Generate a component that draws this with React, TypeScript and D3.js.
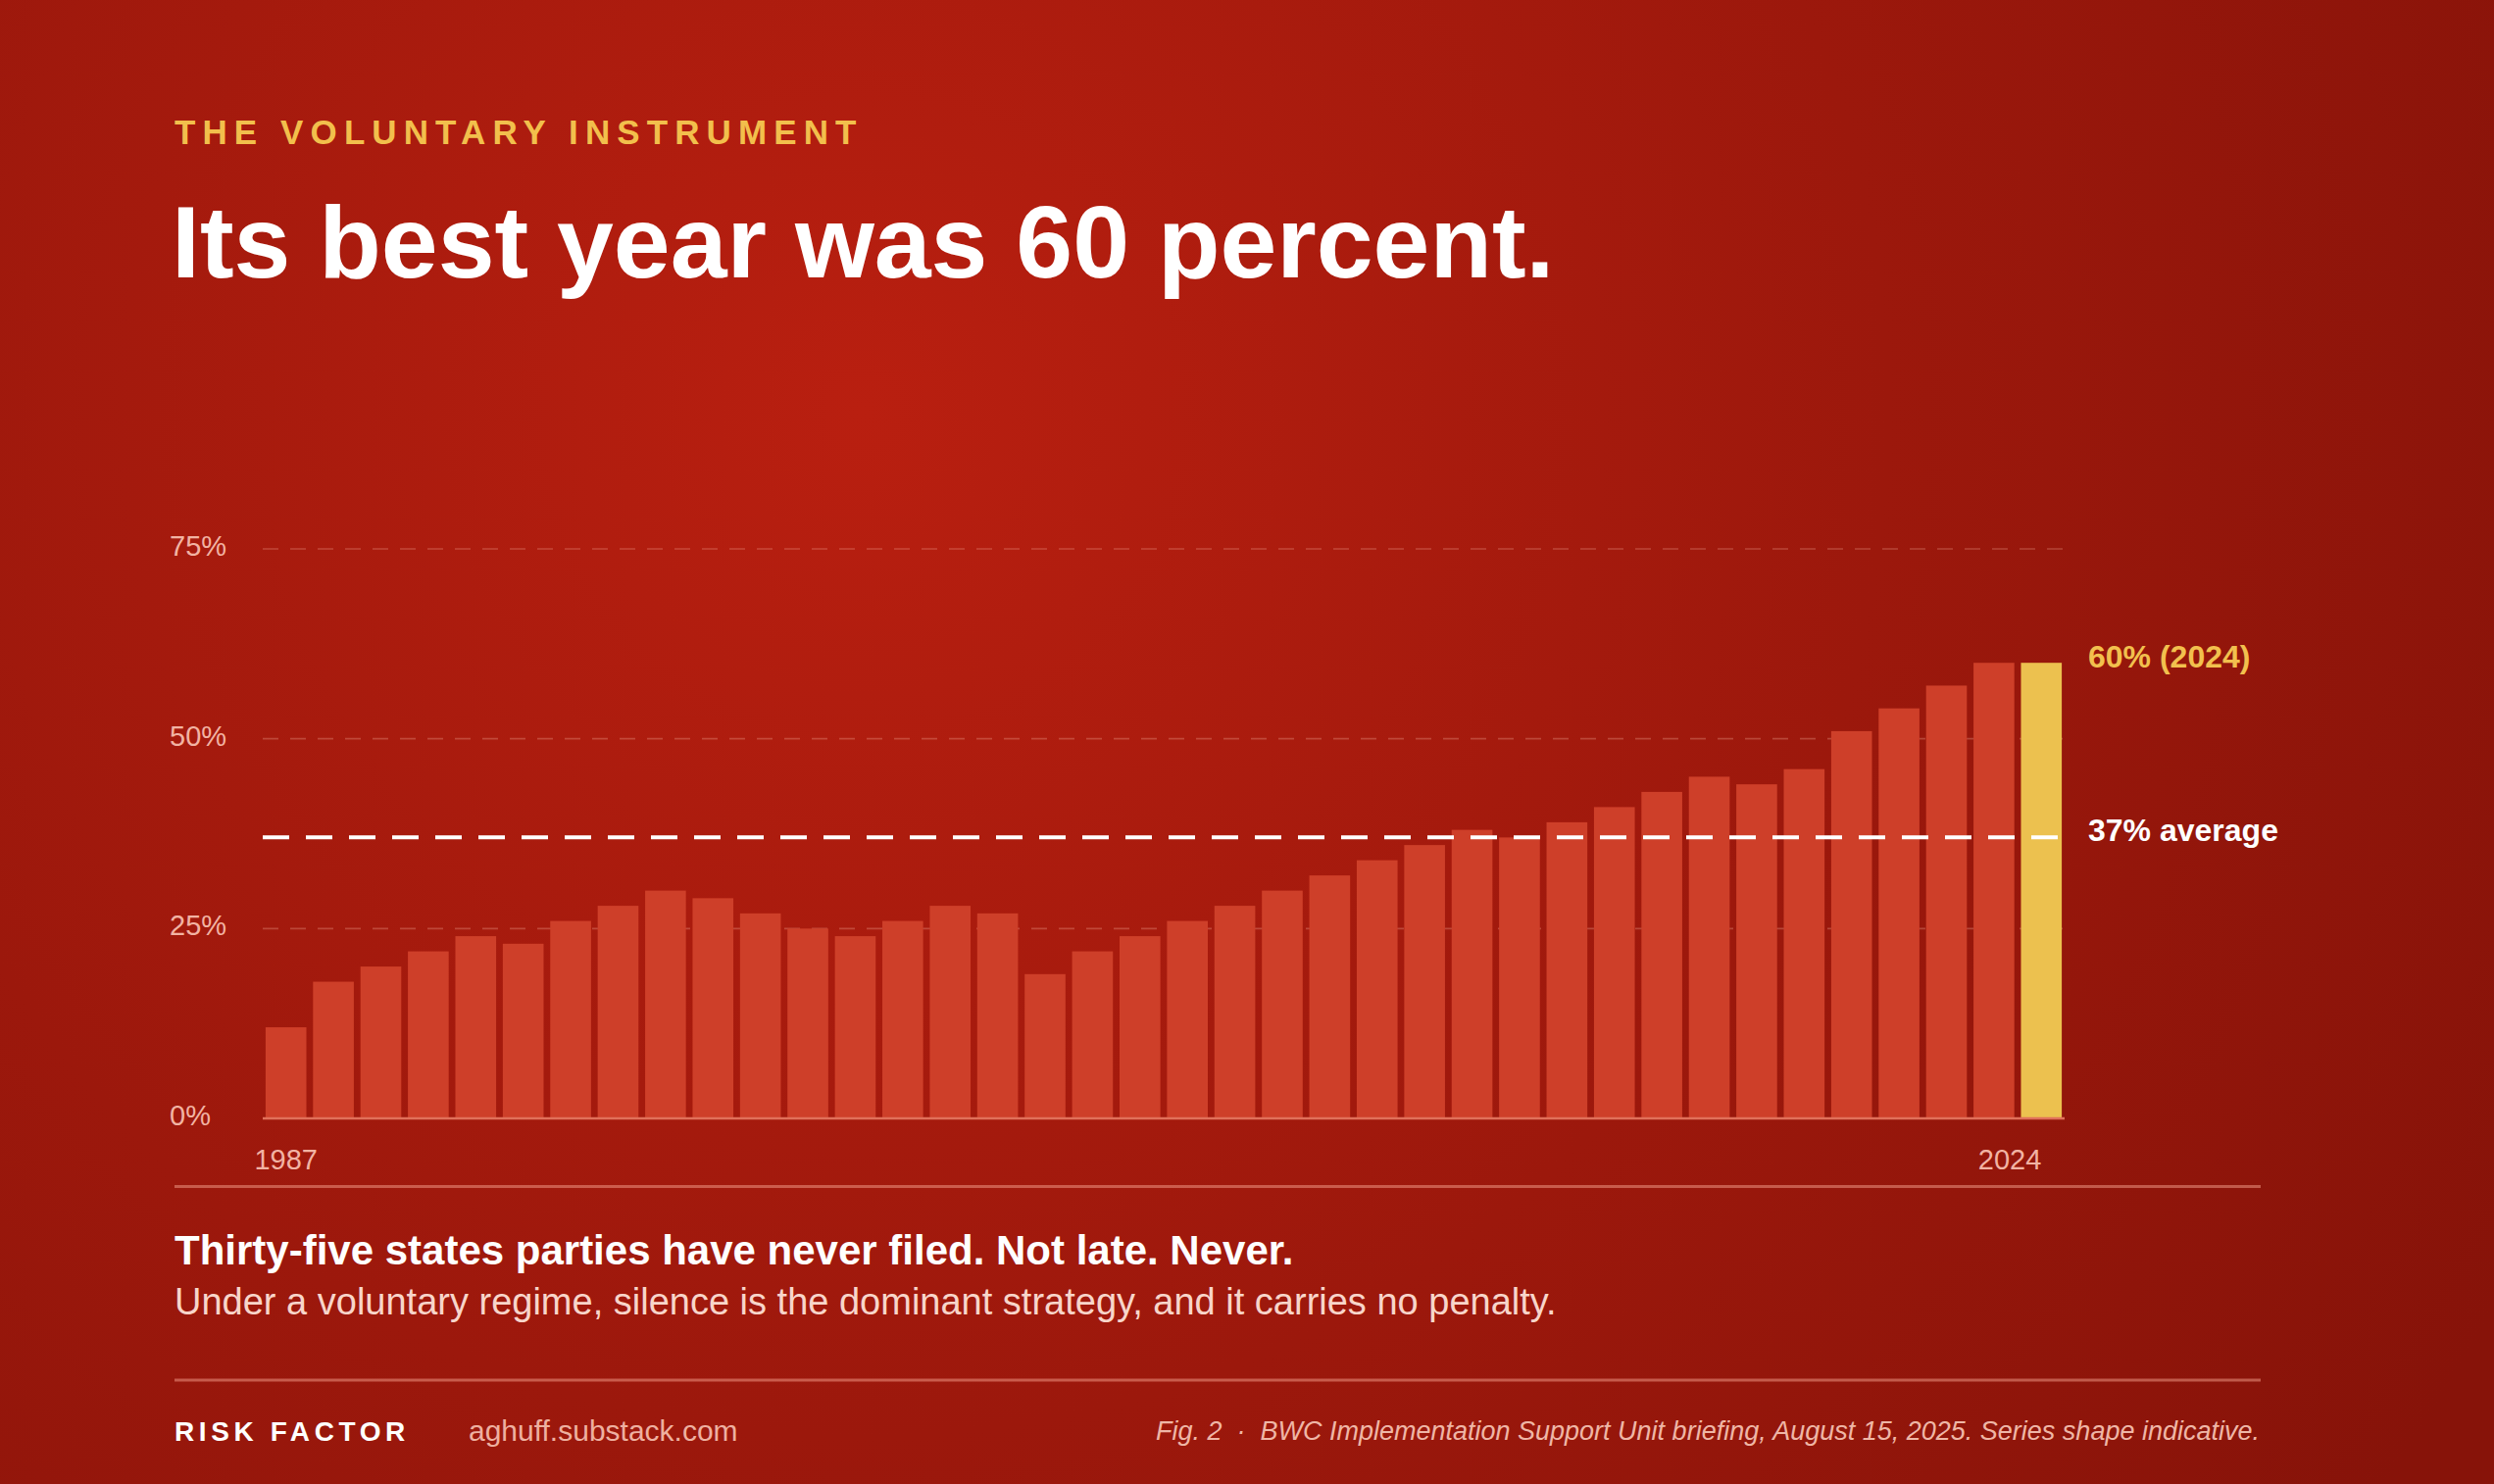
import React, { useRef, useEffect } from 'react';
import * as d3 from 'd3';

// data
const years = [
  '1987', '1988', '1989', '1990', '1991', '1992', '1993', '1994', '1995', '1996',
  '1997', '1998', '1999', '2000', '2001', '2002', '2003', '2004', '2005', '2006',
  '2007', '2008', '2009', '2010', '2011', '2012', '2013', '2014', '2015', '2016',
  '2017', '2018', '2019', '2020', '2021', '2022', '2023', '2024',
];
const filingRates = [
  12, 18, 20, 22, 24, 23, 26, 28, 30, 29,
  27, 25, 24, 26, 28, 27, 19, 22, 24, 26,
  28, 30, 32, 34, 36, 38, 37, 39, 41, 43,
  45, 44, 46, 51, 54, 57, 60, 60,
];
const yTicks = [0, 25, 50, 75];
const gridTicks = [25, 50, 75];
const averageRate = 37;
const highlightYear = '2024';
const labeledYears = ['1987', '2024'];

const FONT = '"Liberation Sans", Arial, Helvetica, sans-serif';

interface ChartProps {
  width?: number;
  height?: number;
}

const App: React.FC<ChartProps> = ({ width = 2544, height = 1514 }) => {
  const svgRef = useRef<SVGSVGElement | null>(null);

  useEffect(() => {
    const svg = d3.select(svgRef.current);
    svg.selectAll('*').remove();

    const left = 268;
    const right = 2106;
    const textX = 178;

    // background
    const defs = svg.append('defs');
    const grad = defs.append('radialGradient')
      .attr('id', 'bg')
      .attr('gradientUnits', 'userSpaceOnUse')
      .attr('cx', 880).attr('cy', 420).attr('r', 1900);
    grad.append('stop').attr('offset', 0).attr('stop-color', '#b91f10');
    grad.append('stop').attr('offset', 0.55).attr('stop-color', '#9c180c');
    grad.append('stop').attr('offset', 1).attr('stop-color', '#871309');

    svg.append('rect')
      .attr('width', width).attr('height', height)
      .attr('fill', 'url(#bg)');

    const x = d3.scaleBand<string>()
      .domain(years)
      .range([left, right])
      .paddingInner(0.14)
      .paddingOuter(0.06);

    const y = d3.scaleLinear().domain([0, 75]).range([1141, 560]);

    // header
    svg.append('text')
      .attr('x', textX).attr('y', 147)
      .attr('font-family', FONT).attr('font-size', 35).attr('font-weight', 700)
      .attr('letter-spacing', 7.1)
      .attr('fill', '#f2bf4c')
      .text('THE VOLUNTARY INSTRUMENT');

    svg.append('text')
      .attr('x', textX - 3).attr('y', 283)
      .attr('font-family', FONT).attr('font-size', 104).attr('font-weight', 700)
      .attr('fill', '#ffffff')
      .text('Its best year was 60 percent.');

    // gridlines
    svg.append('g')
      .selectAll('line')
      .data(gridTicks)
      .join('line')
      .attr('x1', left).attr('x2', right)
      .attr('y1', d => y(d)).attr('y2', d => y(d))
      .attr('stroke', 'rgba(255, 190, 170, 0.28)')
      .attr('stroke-width', 1.6)
      .attr('stroke-dasharray', '16 12');

    // y labels
    svg.append('g')
      .selectAll('text')
      .data(yTicks)
      .join('text')
      .attr('x', 173)
      .attr('y', d => y(d) + 7)
      .attr('font-family', FONT).attr('font-size', 29)
      .attr('fill', '#f2b3a3')
      .text(d => `${d}%`);

    // bars
    svg.append('g')
      .selectAll('rect')
      .data(years)
      .join('rect')
      .attr('x', d => x(d) as number)
      .attr('width', x.bandwidth())
      .attr('y', (d, i) => y(filingRates[i]))
      .attr('height', (d, i) => y(0) - y(filingRates[i]))
      .attr('fill', d => (d === highlightYear ? '#ecc14f' : '#ce3f29'));

    // baseline
    svg.append('line')
      .attr('x1', left).attr('x2', right)
      .attr('y1', y(0)).attr('y2', y(0))
      .attr('stroke', '#e0705a')
      .attr('stroke-width', 2.4);

    // x labels: first centred, last ends at its bar centre
    svg.append('g')
      .selectAll('text')
      .data(labeledYears)
      .join('text')
      .attr('x', d => (x(d) as number) + x.bandwidth() / 2)
      .attr('y', 1193)
      .attr('text-anchor', (d, i) => (i === 0 ? 'middle' : 'end'))
      .attr('font-family', FONT).attr('font-size', 29)
      .attr('fill', '#f2b3a3')
      .text(d => d);

    // average line
    svg.append('line')
      .attr('x1', left).attr('x2', right)
      .attr('y1', y(averageRate)).attr('y2', y(averageRate))
      .attr('stroke', '#ffffff')
      .attr('stroke-width', 4)
      .attr('stroke-dasharray', '27 17');

    const peak = filingRates[filingRates.length - 1];
    svg.append('text')
      .attr('x', 2130).attr('y', y(peak) + 5)
      .attr('font-family', FONT).attr('font-size', 32).attr('font-weight', 700)
      .attr('fill', '#f2c04e')
      .text(`${peak}% (${highlightYear})`);

    svg.append('text')
      .attr('x', 2130).attr('y', y(averageRate) + 4)
      .attr('font-family', FONT).attr('font-size', 32).attr('font-weight', 700)
      .attr('fill', '#ffffff')
      .text(`${averageRate}% average`);

    // dividers
    [1210.5, 1408].forEach(yy => {
      svg.append('line')
        .attr('x1', textX).attr('x2', 2306)
        .attr('y1', yy).attr('y2', yy)
        .attr('stroke', 'rgba(255, 175, 155, 0.45)')
        .attr('stroke-width', 3);
    });

    // takeaway
    svg.append('text')
      .attr('x', textX).attr('y', 1290)
      .attr('font-family', FONT).attr('font-size', 42).attr('font-weight', 700)
      .attr('fill', '#ffffff')
      .text('Thirty-five states parties have never filed. Not late. Never.');

    svg.append('text')
      .attr('x', textX).attr('y', 1341)
      .attr('font-family', FONT).attr('font-size', 38)
      .attr('fill', '#f8d5ca')
      .text('Under a voluntary regime, silence is the dominant strategy, and it carries no penalty.');

    // footer
    svg.append('text')
      .attr('x', textX).attr('y', 1470)
      .attr('font-family', FONT).attr('font-size', 28).attr('font-weight', 700)
      .attr('letter-spacing', 4.6)
      .attr('fill', '#ffffff')
      .text('RISK FACTOR');

    svg.append('text')
      .attr('x', 478).attr('y', 1470)
      .attr('font-family', FONT).attr('font-size', 30)
      .attr('fill', '#eeb0a0')
      .text('aghuff.substack.com');

    svg.append('text')
      .attr('x', 2305).attr('y', 1469)
      .attr('text-anchor', 'end')
      .attr('font-family', FONT).attr('font-size', 27).attr('font-style', 'italic')
      .attr('fill', '#efb6a6')
      .text('Fig. 2\u00a0\u00a0·\u00a0\u00a0BWC Implementation Support Unit briefing, August 15, 2025. Series shape indicative.');
  }, [width, height]);

  return (
    <svg
      ref={svgRef}
      width={width}
      height={height}
      style={{ position: 'absolute', left: 0, top: 0, display: 'block' }}
    ></svg>
  );
};

export default App;
